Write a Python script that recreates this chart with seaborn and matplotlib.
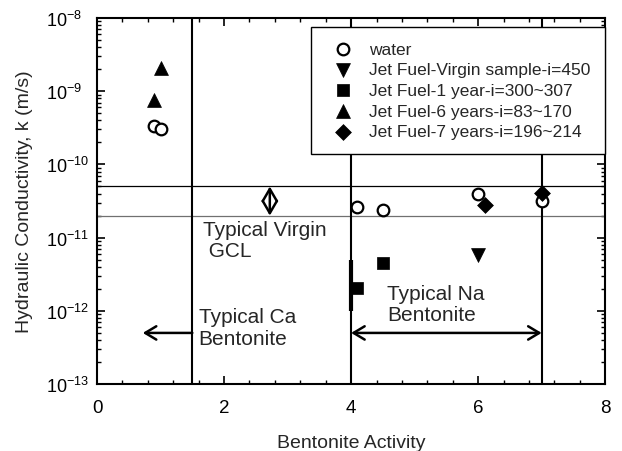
import matplotlib
matplotlib.use("Agg")
import matplotlib.pyplot as plt
import seaborn as sns
import numpy as np
import pandas as pd
from matplotlib.ticker import LogLocator, MultipleLocator, FixedLocator, NullFormatter

# Data
water_x = [0.9, 1.0, 4.1, 4.5, 6.0, 7.0]
water_k = [3.3e-10, 3.0e-10, 2.6e-11, 2.4e-11, 4.0e-11, 3.2e-11]
virgin_x = [6.0]
virgin_k = [5.8e-12]
year1_x = [4.1, 4.5]
year1_k = [2.05e-12, 4.5e-12]
year6_x = [1.0, 0.9]
year6_k = [2.1e-9, 7.6e-10]
year7_x = [6.1, 7.0]
year7_k = [2.8e-11, 4.1e-11]

labels = ["water", "Jet Fuel-Virgin sample-i=450", "Jet Fuel-1 year-i=300~307",
          "Jet Fuel-6 years-i=83~170", "Jet Fuel-7 years-i=196~214"]

sns.set_style("ticks")
plt.rcParams['font.family'] = ['Liberation Sans', 'DejaVu Sans']
plt.rcParams['mathtext.fontset'] = 'custom'
plt.rcParams['mathtext.rm'] = 'Liberation Sans'
plt.rcParams['mathtext.it'] = 'Liberation Sans'

fig = plt.figure(figsize=(6.22, 4.52), dpi=100)
ax = fig.add_axes([0.156, 0.148, 0.817, 0.81])

# reference lines
ax.axhline(5e-11, color='black', lw=0.9)
ax.axhline(2e-11, color='#707070', lw=0.9)
for xv in [1.5, 4.0, 7.0]:
    ax.axvline(xv, color='black', lw=1.5)
ax.plot([4.0, 4.0], [1e-12, 5e-12], color='black', lw=3, solid_capstyle='butt')

series = [
    (water_x, water_k, 'o', 'white'),
    (virgin_x, virgin_k, 'v', 'black'),
    (year1_x, year1_k, 's', 'black'),
    (year6_x, year6_k, '^', 'black'),
    (year7_x, year7_k, 'D', 'black'),
]
sizes = {'o': 70, 'v': 100, 's': 65, '^': 100, 'D': 65}
for (xs, ks, m, fc), lab in zip(series, labels):
    df = pd.DataFrame({'x': xs, 'k': ks})
    sns.scatterplot(data=df, x='x', y='k', marker=m, s=sizes[m], color=fc,
                    edgecolor='black', linewidth=1.6 if m == 'o' else 0.5,
                    label=lab, ax=ax, zorder=5)

# arrows
ax.annotate('', xy=(2.72, 5e-11), xytext=(2.72, 2e-11),
            arrowprops=dict(arrowstyle='<->, head_length=0.55, head_width=0.32', lw=1.8,
                            color='black', mutation_scale=16, shrinkA=0, shrinkB=0))
ax.annotate('', xy=(0.72, 5e-13), xytext=(1.5, 5e-13),
            arrowprops=dict(arrowstyle='->, head_length=0.5, head_width=0.3', lw=1.8,
                            color='black', mutation_scale=16, shrinkA=0, shrinkB=0))
ax.annotate('', xy=(4.0, 5e-13), xytext=(7.0, 5e-13),
            arrowprops=dict(arrowstyle='<->, head_length=0.5, head_width=0.3', lw=1.8,
                            color='black', mutation_scale=16, shrinkA=0, shrinkB=0))

ax.text(1.67, 1.74e-11, "Typical Virgin\n GCL", fontsize=15, va='top', ha='left', linespacing=1.15)
ax.text(1.6, 1.12e-12, "Typical Ca\nBentonite", fontsize=15, va='top', ha='left', linespacing=1.15)
ax.text(4.57, 2.33e-12, "Typical Na\nBentonite", fontsize=15, va='top', ha='left', linespacing=1.15)

ax.set_yscale('log')
ax.set_xlim(0, 8)
ax.set_ylim(1e-13, 1e-8)
ax.xaxis.set_major_locator(MultipleLocator(2))
ax.xaxis.set_minor_locator(MultipleLocator(0.4))
ax.yaxis.set_major_locator(FixedLocator([1e-13, 1e-12, 1e-11, 1e-10, 1e-9, 1e-8]))
ax.set_yticklabels([r'$10^{-13}$', r'$10^{-12}$', r'$10^{-11}$', r'$10^{-10}$', r'$10^{-9}$', r'$10^{-8}$'],
                   ha='left')
ax.yaxis.set_minor_locator(LogLocator(base=10, subs=np.arange(2, 10)))
ax.yaxis.set_minor_formatter(NullFormatter())
ax.tick_params(which='both', direction='in', top=True, right=True, colors='black')
ax.tick_params(axis='x', labelsize=13.5)
ax.tick_params(axis='y', labelsize=13)
ax.tick_params(which='major', length=6, width=1.2)
ax.tick_params(which='minor', length=3, width=1)
ax.tick_params(axis='x', which='major', pad=10.5)
ax.tick_params(axis='y', which='major', pad=37)
for sp in ax.spines.values():
    sp.set_linewidth(1.5)
    sp.set_color('black')

ax.set_xlabel("Bentonite Activity", fontsize=14, labelpad=13)
ax.set_ylabel("Hydraulic Conductivity, k (m/s)", fontsize=14, labelpad=9)

leg = ax.legend(loc='upper left', bbox_to_anchor=(0.421, 0.0, 0.579, 0.975), mode='expand',
                borderaxespad=0, fontsize=12.5,
                frameon=True, fancybox=False, edgecolor='black', framealpha=1,
                handletextpad=0.55, labelspacing=0.32, borderpad=0.82, handlelength=2.0)
leg.get_frame().set_linewidth(1.0)

fig.savefig("out.png", dpi=100)
